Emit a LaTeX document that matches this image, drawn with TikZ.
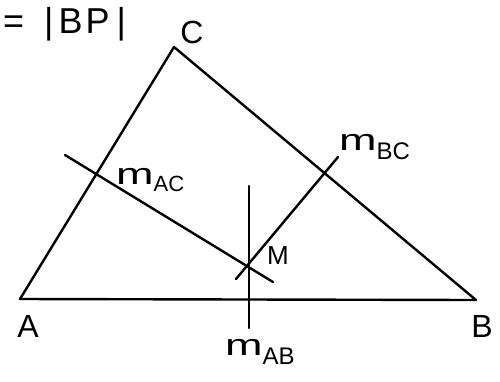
\documentclass[tikz,border=0pt]{standalone}
\usepackage{fontspec}
\setmainfont{Liberation Sans}
\newcommand{\hm}{\scalebox{1.5}[1]{m}}
\begin{document}
\begin{tikzpicture}[x=1pt,y=-1pt,
  ln/.style={line width=2.4pt,line cap=round,line join=round},
  big/.style={inner sep=0pt,font=\fontsize{32}{32}\selectfont},
  lbl/.style={anchor=base west,inner sep=0pt,font=\fontsize{30}{30}\selectfont}]
\useasboundingbox (0,0) rectangle (500,381);
\coordinate (A) at (20,299);
\coordinate (B) at (476,300);
\coordinate (C) at (174,47);
\coordinate (M) at (249,265);
\coordinate (ab1) at (249,186);
\coordinate (ab2) at (249,328);
\coordinate (ac1) at (65,155);
\coordinate (ac2) at (273,282);
\coordinate (bc1) at (236,279);
\coordinate (bc2) at (338,157);
\draw[ln] (A) -- (B) -- (C) -- cycle;
\draw[ln] (ab1) -- (ab2);
\draw[ln] (ac1) -- (ac2);
\draw[ln] (bc1) -- (bc2);
\node[inner sep=0pt,anchor=base west,font=\fontsize{36}{36}\selectfont] (bp) at (3,33) {=\hspace{20pt}|\hspace{5pt}B\hspace{3pt}P\hspace{7pt}|};
\node[big] (lC) at (192,32) {C};
\node[big] (lA) at (28,326) {A};
\node[big] (lB) at (482,326) {B};
\node[inner sep=0pt,anchor=base west,font=\fontsize{26}{26}\selectfont] (lM) at (267,264) {M};
\node[lbl] (lAC) at (116,184) {\hm\fontsize{22}{22}\selectfont\raisebox{-7pt}{AC}};
\node[lbl] (lBC) at (339,150) {\hm\fontsize{24}{24}\selectfont\raisebox{-9pt}{BC}};
\node[lbl] (lAB) at (225,355) {\hm\fontsize{24}{24}\selectfont\raisebox{-9pt}{AB}};
\end{tikzpicture}
\end{document}
